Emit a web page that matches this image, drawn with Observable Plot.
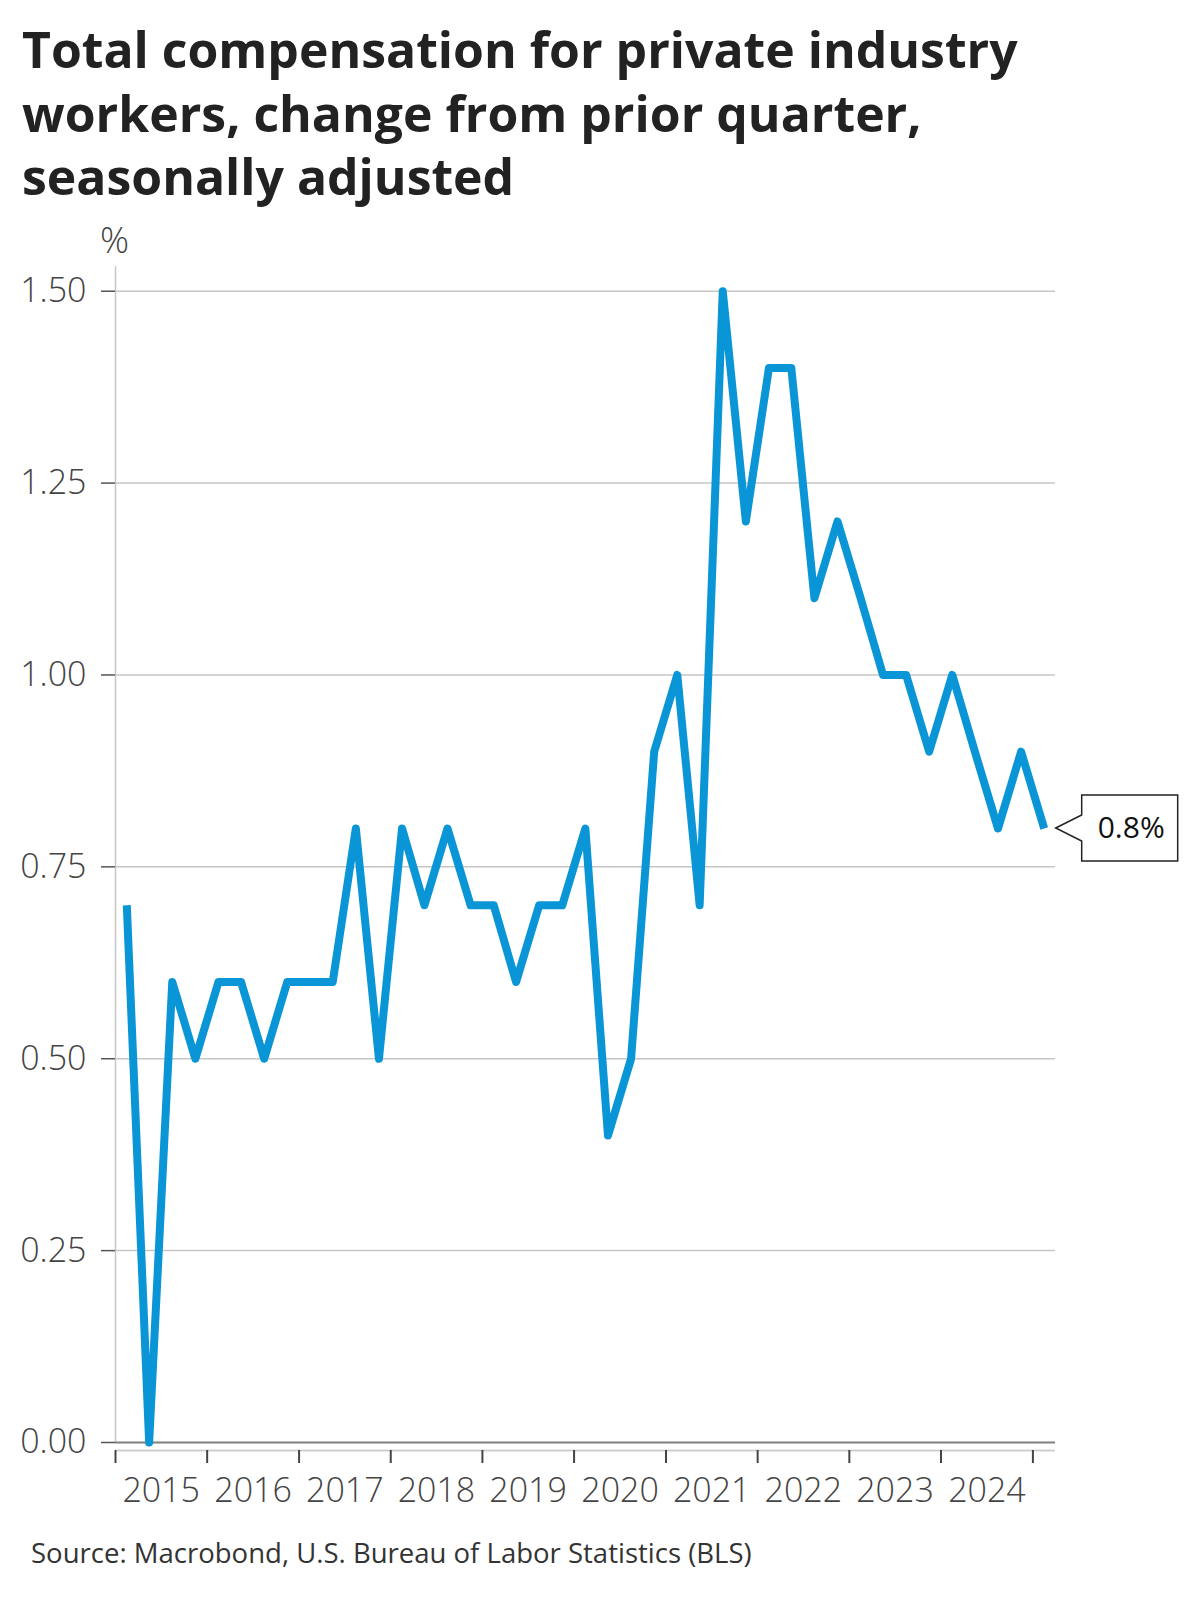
<!DOCTYPE html>
<html><head><meta charset="utf-8">
<script src="https://cdn.jsdelivr.net/npm/d3@7"></script>
<script src="https://cdn.jsdelivr.net/npm/@observablehq/plot@0.6"></script>
<style>
body{margin:0;background:#fff;font-family:"Open Sans",sans-serif;}
#title{height:215px;box-sizing:border-box;padding:18px 0 0 22px;font-weight:700;color:#222;}
#title div{height:63.5px;line-height:63.5px;white-space:nowrap;}
#chart svg{display:block;}
#source{margin-top:8px;padding-left:31px;line-height:40px;color:#333;white-space:nowrap;}
</style></head><body>
<div id="title"></div><div id="chart"></div><div id="source"></div>
<script>
const titleLines = [
  "Total compensation for private industry",
  "workers, change from prior quarter,",
  "seasonally adjusted"
];
const sourceText = "Source: Macrobond, U.S. Bureau of Labor Statistics (BLS)";
const yUnit = "%";
const quarters = [
  "2015 Q1","2015 Q2","2015 Q3","2015 Q4",
  "2016 Q1","2016 Q2","2016 Q3","2016 Q4",
  "2017 Q1","2017 Q2","2017 Q3","2017 Q4",
  "2018 Q1","2018 Q2","2018 Q3","2018 Q4",
  "2019 Q1","2019 Q2","2019 Q3","2019 Q4",
  "2020 Q1","2020 Q2","2020 Q3","2020 Q4",
  "2021 Q1","2021 Q2","2021 Q3","2021 Q4",
  "2022 Q1","2022 Q2","2022 Q3","2022 Q4",
  "2023 Q1","2023 Q2","2023 Q3","2023 Q4",
  "2024 Q1","2024 Q2","2024 Q3","2024 Q4",
  "2025 Q1"
];
const values = [
  0.7, 0.0, 0.6, 0.5,
  0.6, 0.6, 0.5, 0.6,
  0.6, 0.6, 0.8, 0.5,
  0.8, 0.7, 0.8, 0.7,
  0.7, 0.6, 0.7, 0.7,
  0.8, 0.4, 0.5, 0.9,
  1.0, 0.7, 1.5, 1.2,
  1.4, 1.4, 1.1, 1.2,
  1.1, 1.0, 1.0, 0.9,
  1.0, 0.9, 0.8, 0.9,
  0.8
];
const yTicks = [0, 0.25, 0.5, 0.75, 1.0, 1.25, 1.5];
const yearLabels = ["2015","2016","2017","2018","2019","2020","2021","2022","2023","2024"];

function fitSize(text, weight, target) {
  const c = document.createElement("canvas").getContext("2d");
  c.font = `${weight} 100px "Open Sans"`;
  return 100 * target / c.measureText(text).width;
}

const titleEl = document.getElementById("title");
titleEl.style.fontSize = fitSize(titleLines[0], 700, 996).toFixed(2) + "px";
titleLines.forEach(t => { const d = document.createElement("div"); d.textContent = t; titleEl.appendChild(d); });
const srcEl = document.getElementById("source");
srcEl.textContent = sourceText;
srcEl.style.fontSize = fitSize(sourceText, 400, 721).toFixed(2) + "px";

const parseQ = s => { const [y, q] = s.split(" Q"); return new Date(Date.UTC(+y, (+q - 1) * 3 + 1, 15)); };
const data = quarters.map((q, i) => ({date: parseQ(q), value: values[i]}));
const last = data[data.length - 1];
const xDomain = [new Date(Date.UTC(2015, 0, 1)), new Date(Date.UTC(2025, 3, 1))];
const yearStarts = d3.utcYears(new Date(Date.UTC(2015, 0, 1)), new Date(Date.UTC(2025, 0, 2)));

// callout box pointing at the last value, positioned through the plot's scales
function callout(index, scales) {
  const px = scales.x(last.date), py = scales.y(last.value);
  const gap = 12, m = 26, h = 66, w = 96, pad = 16;
  const x0 = px + gap;
  const g = d3.create("svg:g");
  g.append("path")
    .attr("d", `M${x0},${py}l${m},${-m / 2}v${m / 2 - h / 2}h${w}v${h}h${-w}v${m / 2 - h / 2}z`)
    .attr("fill", "#fff").attr("stroke", "#222").attr("stroke-width", 1.5)
    .attr("stroke-linejoin", "miter");
  g.append("text")
    .attr("x", x0 + m + pad).attr("y", py).attr("dy", "0.35em")
    .attr("text-anchor", "start")
    .attr("font-size", 30).attr("fill", "#111")
    .text(`${last.value}%`);
  return g.node();
}

const chart = Plot.plot({
  width: 1200, height: 1310,
  marginLeft: 115, marginRight: 145, marginTop: 75.7, marginBottom: 83,
  style: {fontFamily: '"Open Sans", sans-serif', background: "#fff", overflow: "visible"},
  x: {type: "utc", domain: xDomain, axis: null},
  y: {domain: [0, 1.5], axis: null},
  marks: [
    Plot.ruleY(yTicks.filter(d => d > 0), {stroke: "#c6c6c6", strokeWidth: 1.5}),
    Plot.ruleX([xDomain[0]], {y1: 0, y2: 1.532, stroke: "#c6c6c6", strokeWidth: 1.5}),
    Plot.ruleY([0], {dy: 8, stroke: "#cfcfcf", strokeWidth: 2}),
    Plot.ruleY([0], {stroke: "#808080", strokeWidth: 2}),
    Plot.axisY({ticks: yTicks, tickSize: 14, tickPadding: 15, tickFormat: d3.format(".2f"),
      fontSize: 34, fontWeight: 300, stroke: "#555", strokeWidth: 1.5, fill: "#444", label: null}),
    Plot.ruleX(yearStarts, {x: d => d, y1: 0, y2: 0, insetTop: 8, insetBottom: -21,
      stroke: "#444", strokeWidth: 2}),
    Plot.text(yearLabels, {x: d => new Date(Date.UTC(+d, 6, 2)), text: d => d, frameAnchor: "bottom",
      dy: 59, fontSize: 34, fontWeight: 300, fill: "#444"}),
    Plot.text([yUnit], {frameAnchor: "top-left", textAnchor: "middle", dx: -1, dy: -64,
      fontSize: 36, fontWeight: 300, fill: "#444"}),
    Plot.line(data, {x: "date", y: "value", stroke: "#0a96d6", strokeWidth: 8,
      strokeLinejoin: "round", strokeLinecap: "butt"}),
    callout
  ]
});
document.getElementById("chart").appendChild(chart);
</script>
</body></html>
